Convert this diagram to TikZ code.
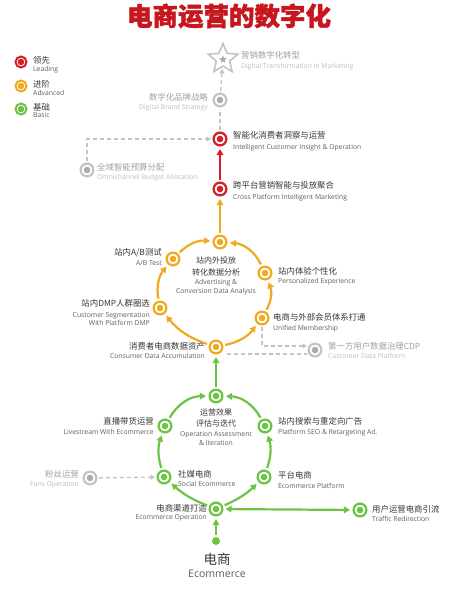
\documentclass[tikz,border=0pt]{standalone}
\usepackage{fontspec}
\setmainfont{Open Sans}
\newfontfamily\cjk{Noto Sans CJK SC}
\newfontfamily\cjkt[BoldFeatures={FakeBold=1.6}]{Noto Sans CJK SC}
\usetikzlibrary{arrows.meta,shapes.geometric}
\definecolor{cred}{RGB}{214,30,38}
\definecolor{cyel}{RGB}{240,170,30}
\definecolor{cgrn}{RGB}{108,196,68}
\definecolor{cgry}{RGB}{196,196,196}
\definecolor{cgrydot}{RGB}{172,172,172}
\definecolor{ttl}{RGB}{200,22,30}
\definecolor{tcn}{RGB}{55,55,55}
\definecolor{ten}{RGB}{95,95,95}
\definecolor{gtcn}{RGB}{160,160,160}
\definecolor{gten}{RGB}{190,190,190}
% name, anchor side, x, y(cn), y(en), cn text, en text, style prefix
\newcommand\lab[8]{%
  \node[#8cn,anchor=base #2] (#1c) at (#3,{-(#4)-3.1}) {#6};
  \node[#8en,anchor=base #2] (#1e) at (#3,{-(#5)-2.1}) {#7};}
\tikzset{
  stage/.style 2 args={circle, minimum size=12.8pt, inner sep=0pt, line width=2.2pt,
    draw=#1, fill=white,
    path picture={\fill[#2] (path picture bounding box.center) circle (3.3pt);}},
  ncn/.style={inner sep=0pt, font=\cjk\fontsize{8.4}{10}\selectfont, text=tcn},
  nen/.style={inner sep=0pt, font=\fontsize{6.8}{8}\selectfont, text=ten},
  gcn/.style={ncn, text=gtcn},
  gen/.style={nen, text=gten},
  ccn/.style={ncn, font=\cjk\fontsize{8}{10}\selectfont},
  arr/.style={line width=2.2pt, -{Triangle[length=6pt,width=6.5pt]},
    shorten >=2.5pt, shorten <=2pt},
  rarr/.style={arr, draw=cred},
  yarr/.style={arr, draw=cyel},
  garr/.style={arr, draw=cgrn},
  dashg/.style={draw=cgry, line width=1.3pt, dash pattern=on 4pt off 3pt,
    shorten >=1.5pt, shorten <=1.5pt},
  dasharr/.style={dashg, -{Triangle[length=4.5pt,width=5pt]}},
}
\begin{document}
\begin{tikzpicture}[x=1pt,y=1pt]
\fill[white] (0,0) rectangle (457,-600);
\useasboundingbox (0,0) rectangle (457,-600);

% title
\node[inner sep=0pt, font=\cjkt\bfseries\fontsize{25.5}{26}\selectfont, text=ttl] (title) at (229,-16) {电商运营的数字化};

% legend
\node[stage={cred}{cred}, minimum size=11pt, line width=2pt] (lg1) at (21,-62) {};
\node[stage={cyel}{cyel}, minimum size=11pt, line width=2pt] (lg2) at (21,-86) {};
\node[stage={cgrn}{cgrn}, minimum size=11pt, line width=2pt] (lg3) at (21,-109) {};
\lab{lg1L}{west}{33}{60}{69}{领先}{Leading}{n}
\lab{lg2L}{west}{33}{84}{93}{进阶}{Advanced}{n}
\lab{lg3L}{west}{33}{107}{115}{基础}{Basic}{n}

% top (gray)
\node[star, star points=5, star point ratio=2.2, minimum size=31pt, inner sep=0pt,
  draw=cgry, line width=1.6pt] (star) at (223,-59) {};
\node[star, star points=5, star point ratio=2.2, minimum size=8pt, inner sep=0pt,
  fill=cgrydot] (starin) at (223,-59.5) {};
\lab{starL}{west}{241}{55}{66}{营销数字化转型}{Digital Transformation in Marketing}{g}

\node[stage={cgry}{cgrydot}] (brand) at (220,-100) {};
\lab{brandL}{east}{208}{97}{107}{数字化品牌战略}{Digital Brand Strategy}{g}

% red
\node[stage={cred}{cred}] (insight) at (220,-139) {};
\lab{insL}{west}{233}{135}{147}{智能化消费者洞察与运营}{Intelligent Customer Insight \& Operation}{n}
\node[stage={cgry}{cgrydot}] (omni) at (87,-170) {};
\lab{omniL}{west}{97}{167}{177}{全域智能预算分配}{Omnichannel Budget Allocation}{g}
\node[stage={cred}{cred}] (cross) at (220,-189) {};
\lab{crossL}{west}{233}{185}{197}{跨平台营销智能与投放聚合}{Cross Platform Intelligent Marketing}{n}

% yellow ring
\node[stage={cyel}{cyel}] (ytop) at (220,-242) {};
\node[stage={cyel}{cyel}] (ab) at (173,-259) {};
\node[stage={cyel}{cyel}] (pers) at (265,-273) {};
\node[stage={cyel}{cyel}] (dmp) at (160,-308) {};
\node[stage={cyel}{cyel}] (unif) at (262,-318) {};
\node[stage={cyel}{cyel}] (cons) at (216,-347) {};
\node[stage={cgry}{cgrydot}] (cdp) at (315,-350) {};

\node[ccn,anchor=base] (ytopL1) at (216,{-260-3}) {站内外投放};
\node[ccn,anchor=base] (ytopL2) at (216,{-272-3}) {转化数据分析};
\node[nen,anchor=base] (ytopL3) at (216,{-282-2.1}) {Advertising \&};
\node[nen,anchor=base] (ytopL4) at (216,{-291-2.1}) {Conversion Data Analysis};
\lab{abL}{east}{162}{252}{263}{站内A/B测试}{A/B Test}{n}
\lab{persL}{west}{278}{271}{281}{站内体验个性化}{Personalized Experience}{n}
\lab{dmpL}{east}{150}{303}{315}{站内DMP人群圈选}{Customer Segmentation}{n}
\node[nen,anchor=base east] (dmpL2) at (150,{-323.5-2.1}) {With Platform DMP};
\lab{unifL}{west}{273}{317}{328}{电商与外部会员体系打通}{Unified Membership}{n}
\lab{consL}{east}{205}{346}{356}{消费者电商数据资产}{Consumer Data Accumulation}{n}
\lab{cdpL}{west}{328}{346}{356}{第一方用户数据治理CDP}{Customer Data Platform}{g}

% green
\node[stage={cgrn}{cgrn}] (assess) at (216,-396) {};
\node[stage={cgrn}{cgrn}] (live) at (165,-426) {};
\node[stage={cgrn}{cgrn}] (seo) at (265,-426) {};
\node[stage={cgrn}{cgrn}] (social) at (164,-477) {};
\node[stage={cgrn}{cgrn}] (plat) at (264,-477) {};
\node[stage={cgry}{cgrydot}] (fans) at (90,-478) {};
\node[stage={cgrn}{cgrn}] (op) at (216,-509) {};
\node[stage={cgrn}{cgrn}] (traffic) at (360,-510) {};
\node[circle, fill=cgrn, minimum size=8pt, inner sep=0pt] (src) at (216,-541) {};

\node[ccn,anchor=base] (assL1) at (216,{-412-3}) {运营效果};
\node[ccn,anchor=base] (assL2) at (216,{-423-3}) {评估与迭代};
\node[nen,anchor=base] (assL3) at (216,{-434-2.1}) {Operation Assessment};
\node[nen,anchor=base] (assL4) at (216,{-443-2.1}) {\& Iteration};
\lab{liveL}{east}{154}{421}{432}{直播带货运营}{Livestream With Ecommerce}{n}
\lab{seoL}{west}{278}{421}{432}{站内搜索与重定向广告}{Platform SEO \& Retargeting Ad.}{n}
\lab{socL}{west}{178}{474}{484}{社媒电商}{Social Ecommerce}{n}
\lab{platL}{west}{278}{475}{486}{平台电商}{Ecommerce Platform}{n}
\lab{fansL}{east}{79}{474}{484}{粉丝运营}{Fans Operation}{g}
\lab{opL}{east}{207}{508}{517}{电商渠道打造}{Ecommerce Operation}{n}
\lab{trafL}{west}{372}{509}{519}{用户运营电商引流}{Traffic Redirection}{n}

\node[inner sep=0pt, font=\cjk\fontsize{13.5}{15}\selectfont, text=tcn] (ecomCN) at (217,-559) {电商};
\node[inner sep=0pt, font=\fontsize{10.5}{12}\selectfont, text=ten] (ecomEN) at (217,-574) {Ecommerce};

% connectors: gray dashed
\draw[dasharr] (brand) -- (star);
\draw[dashg] (insight) -- (brand);
\draw[dasharr] (omni) |- (insight);
\coordinate (cdpU) at (307,-346);
\coordinate (cdpD) at (307,-354);
\draw[dasharr, shorten >=0pt] (unif) |- (cdpU);
\draw[dashg, shorten >=0pt, shorten <=0pt] ([xshift=6pt]cons.south east |- cdpD) -- (cdpD);
\draw[dasharr] (fans) -- (social);

% red
\draw[rarr] (cross) -- (insight);
% yellow
\draw[yarr] (ytop) -- (cross);
\draw[yarr] (cons) to[bend left=16] (dmp);
\draw[yarr] (dmp) to[bend left=25] (ab);
\draw[yarr] (ab) to[bend left=25] (ytop);
\draw[yarr] (cons) to[bend right=20] (unif);
\draw[yarr] (unif) to[bend right=25] (pers);
\draw[yarr] (pers) to[bend right=30] (ytop);
% green
\draw[garr] (assess) -- (cons);
\draw[garr] (src) -- (op);
\draw[garr] (op) to[bend left=10] (social);
\draw[garr] (social) to[bend left=18] (live);
\draw[garr] (live) to[bend left=30] (assess);
\draw[garr] (op) to[bend right=10] (plat);
\draw[garr] (plat) to[bend right=18] (seo);
\draw[garr] (seo) to[bend right=30] (assess);
\draw[garr, {Triangle[length=6pt,width=6.5pt]}-{Triangle[length=6pt,width=6.5pt]}] (op) -- (traffic);
\end{tikzpicture}
\end{document}
